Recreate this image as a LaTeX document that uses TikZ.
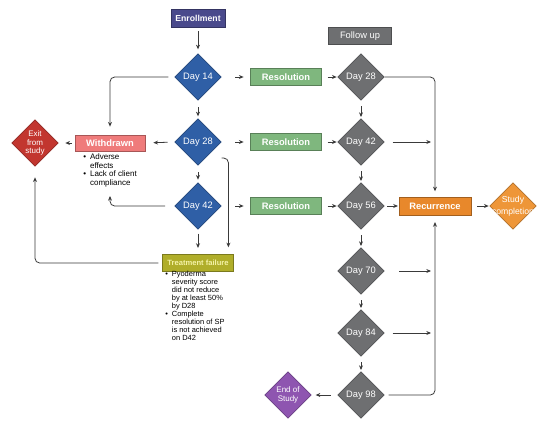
\documentclass[tikz,border=0pt]{standalone}
\usepackage{fontspec}
\setmainfont{Liberation Sans}
\usetikzlibrary{shapes.geometric,arrows.meta}

\definecolor{dayblue}{HTML}{2F5FA6}
\definecolor{daygray}{HTML}{6E6F71}
\definecolor{resgreen}{HTML}{7FB77E}
\definecolor{enrollpurple}{HTML}{4A4A8C}
\definecolor{withdrawnred}{HTML}{EF7B7B}
\definecolor{exitred}{HTML}{C2362F}
\definecolor{failolive}{HTML}{B0AE2A}
\definecolor{failtext}{HTML}{F4F2A6}
\definecolor{recurorange}{HTML}{E8882B}
\definecolor{doneorange}{HTML}{EE9638}
\definecolor{endpurple}{HTML}{8E55B0}
\definecolor{linedark}{HTML}{3A3A3A}

\tikzset{
    flowline/.style={draw=linedark, line width=0.6pt, rounded corners=3.5pt, -{Stealth[length=3.5pt,width=3pt]}},
    daynode/.style={diamond, draw=#1!75!black, fill=#1, text=white, line width=0.5pt, minimum width=35pt, minimum height=35pt, inner sep=0pt, align=center, font=\fontsize{7}{8}\selectfont},
    stagebox/.style={rectangle, draw=#1!70!black, fill=#1, text=white, line width=0.6pt, inner sep=0pt, minimum width=53pt, minimum height=13pt, font=\bfseries\fontsize{7}{8}\selectfont},
    notetext/.style={anchor=north west, inner sep=0pt, align=left}
}

\begin{document}
\begin{tikzpicture}[x=0.75pt, y=-0.75pt]
        \useasboundingbox (0,0) rectangle (550,429);

        % treatment column
        \node[stagebox=enrollpurple, minimum width=40.5pt, minimum height=13.5pt, font=\bfseries\fontsize{6.5}{7.5}\selectfont] (enroll) at (198,18) {Enrollment};
        \node[daynode=dayblue] (d14) at (198,77) {Day 14};
        \node[daynode=dayblue] (d28) at (198,142) {Day 28};
        \node[daynode=dayblue] (d42) at (198,206) {Day 42};

        \node[stagebox=resgreen] (res1) at (286,77) {Resolution};
        \node[stagebox=resgreen] (res2) at (286,142) {Resolution};
        \node[stagebox=resgreen] (res3) at (286,206) {Resolution};

        % follow up column
        \node[stagebox=daygray, minimum width=47pt, font=\fontsize{7}{8}\selectfont] (follow) at (360,36) {Follow up};
        \node[daynode=daygray] (g28) at (361,77) {Day 28};
        \node[daynode=daygray] (g42) at (361,142) {Day 42};
        \node[daynode=daygray] (g56) at (361,206) {Day 56};
        \node[daynode=daygray] (g70) at (361,271) {Day 70};
        \node[daynode=daygray] (g84) at (361,333) {Day 84};
        \node[daynode=daygray] (g98) at (361,395) {Day 98};

        \node[stagebox=recurorange, minimum width=54pt, minimum height=13.5pt] (recur) at (435,206) {Recurrence};
        \node[daynode=doneorange, font=\fontsize{6.5}{6.8}\selectfont] (done) at (513,206)
            {\makebox[18pt][c]{\shortstack{Study\\completion}}};
        \node[daynode=endpurple, font=\fontsize{6}{6.4}\selectfont] (eos) at (288,395) {End of\\Study};

        % withdrawal and failure
        \node[stagebox=withdrawnred, minimum width=52.5pt, minimum height=12pt] (withdr) at (110,143) {Withdrawn};
        \node[daynode=exitred, font=\fontsize{6}{6.3}\selectfont] (exit) at (35,143) {Exit\\from\\study};
        \node[stagebox=failolive, text=failtext, font=\bfseries\fontsize{5.7}{6.5}\selectfont] (fail) at (198,263) {Treatment failure};

        \node[notetext, font=\fontsize{6}{6.5}\selectfont] (wnotes) at (83,153) {%
            \begin{tabular}{@{}l@{\hspace{3pt}}l@{}}
            \textbullet & Adverse\\
                        & effects\\
            \textbullet & Lack of client\\
                        & compliance
            \end{tabular}};
        \node[notetext, font=\fontsize{5.6}{5.95}\selectfont] (fnotes) at (165,271) {%
            \begin{tabular}{@{}l@{\hspace{3pt}}l@{}}
            \textbullet & Pyoderma\\
                        & severity score\\
                        & did not reduce\\
                        & by at least 50\%\\
                        & by D28\\
            \textbullet & Complete\\
                        & resolution of SP\\
                        & is not achieved\\
                        & on D42
            \end{tabular}};

        \coordinate (wback) at (110,196);

        % connectors, treatment side
        \draw[flowline, shorten <=3pt, shorten >=3pt] (enroll.south) -- (d14.north);
        \draw[flowline, shorten <=5pt, shorten >=1.5pt] (d14.south) -- (d28.north);
        \draw[flowline, shorten <=5pt, shorten >=2pt] (d28.south) -- (d42.north);
        \draw[flowline, shorten <=4.5pt, shorten >=6pt] (d14.west) -| (withdr.north);
        \draw[flowline, shorten <=5pt, shorten >=6pt] (d28.west) -- (withdr.east);
        \draw[flowline, shorten <=2pt, shorten >=5pt] (withdr.west) -- (exit.east);
        \draw[flowline, shorten <=7pt] (d42.west) -| (wback);
        \draw[flowline, shorten <=3pt, shorten >=4.5pt] (d42.south) -- (fail.north);
        \draw[flowline, shorten >=5pt] ([yshift=-12pt]d28.east) -| ([xshift=-4pt]fail.north east);
        \draw[flowline, shorten <=3pt, shorten >=8pt] (fail.west) -| (exit.south);

        \foreach \d/\r/\g in {d14/res1/g28, d28/res2/g42, d42/res3/g56} {
            \draw[flowline, shorten <=10pt, shorten >=5pt] (\d.east) -- (\r.west);
            \draw[flowline, shorten <=4.5pt, shorten >=0.5pt] (\r.east) -- (\g.west);
        }

        % connectors, follow up side
        \foreach \a/\b in {g28/g42, g42/g56, g56/g70, g70/g84, g84/g98}
            \draw[flowline, shorten <=4pt, shorten >=1pt] (\a.south) -- (\b.north);

        \draw[flowline, shorten >=4pt] (g28.east) -| (recur.north);
        \draw[flowline, shorten <=6pt, shorten >=3pt] (g42.east) -- (g42.east -| recur.north);
        \draw[flowline, shorten <=11pt, shorten >=3pt] (g70.east) -- (g70.east -| recur.north);
        \draw[flowline, shorten <=6pt, shorten >=3pt] (g84.east) -- (g84.east -| recur.north);
        \draw[flowline, shorten <=3pt, shorten >=5pt] (g98.east) -| (recur.south);
        \draw[flowline, shorten <=5pt, shorten >=3pt] (g98.west) -- (eos.east);
        \draw[flowline, shorten <=2pt, shorten >=0.5pt] (g56.east) -- (recur.west);
        \draw[flowline, shorten <=4.5pt, shorten >=0.5pt] (recur.east) -- (done.west);
    \end{tikzpicture}
\end{document}
